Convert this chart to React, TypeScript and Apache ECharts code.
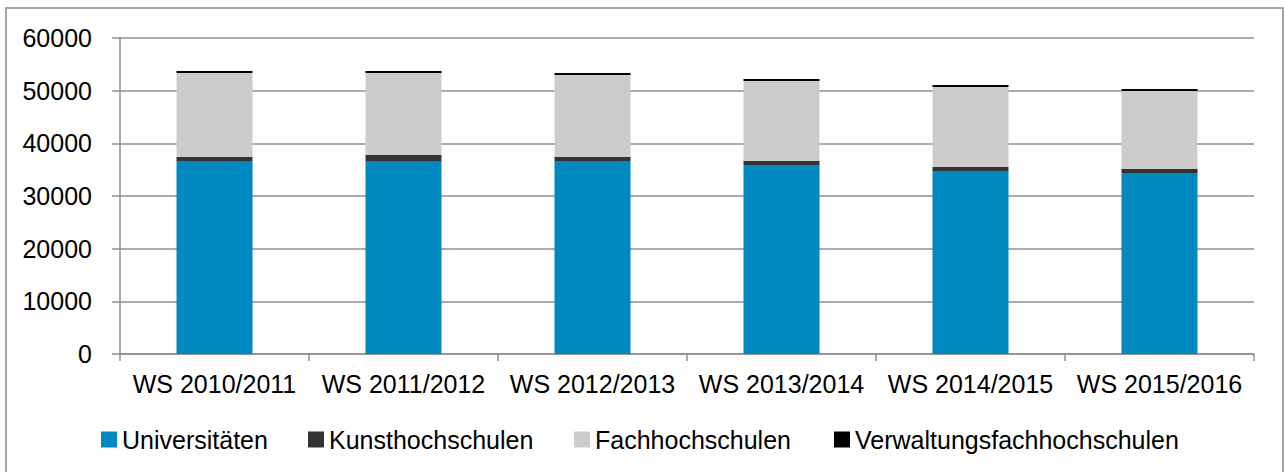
import React, { useEffect, useRef } from "react";
import * as echarts from "echarts";

const categories = ["WS 2010/2011", "WS 2011/2012", "WS 2012/2013", "WS 2013/2014", "WS 2014/2015", "WS 2015/2016"];
const seriesNames = ["Universitäten", "Kunsthochschulen", "Fachhochschulen", "Verwaltungsfachhochschulen"];
const universitaeten = [36640, 36640, 36640, 35880, 34750, 34370];
const kunsthochschulen = [760, 1140, 760, 760, 760, 760];
const fachhochschulen = [15950, 15570, 15570, 15190, 15190, 14810];
const verwaltungsfachhochschulen = [380, 380, 380, 380, 380, 380];

const FONT = "'Liberation Sans', Arial, sans-serif";

export default function App() {
  const ref = useRef<HTMLDivElement>(null);
  useEffect(() => {
    if (!ref.current) return;
    const chart = echarts.init(ref.current, null, { renderer: "svg" });
    const gridColor = "#8f8f8f";
    const mk = (name: string, data: number[], color: string) => ({
      name,
      type: "bar",
      stack: "total",
      data,
      barWidth: 76,
      itemStyle: { color },
      emphasis: { disabled: true },
    });
    const legendLefts = [101, 308, 574, 834];
    chart.setOption({
      animation: false,
      textStyle: { fontFamily: FONT },
      grid: { left: 120, right: 31, top: 38, bottom: 118, containLabel: false },
      graphic: [
        {
          type: "rect",
          shape: { x: 6, y: 8, width: 1277, height: 470 },
          style: { fill: "none", stroke: "#a6a6a6", lineWidth: 2 },
          silent: true,
        },
      ],
      legend: seriesNames.map((n, i) => ({
        left: legendLefts[i],
        top: 427,
        padding: 0,
        icon: "rect",
        itemWidth: 16,
        itemHeight: 16,
        textStyle: { fontSize: 25, color: "#000", fontFamily: FONT },
        data: [n],
      })),
      xAxis: {
        type: "category",
        data: categories,
        boundaryGap: true,
        axisLine: { lineStyle: { color: gridColor, width: 1.5 } },
        axisTick: { show: true, length: 7, lineStyle: { color: gridColor, width: 1.5 } },
        axisLabel: { fontSize: 25, color: "#000", margin: 17, fontFamily: FONT, interval: 0 },
      },
      yAxis: {
        type: "value",
        min: 0,
        max: 60000,
        interval: 10000,
        axisLine: { show: true, lineStyle: { color: gridColor, width: 1.5 } },
        axisTick: { show: true, length: 8, lineStyle: { color: gridColor, width: 1.5 } },
        splitLine: { show: true, lineStyle: { color: gridColor, width: 1.5 } },
        axisLabel: { fontSize: 25, color: "#000", margin: 28, fontFamily: FONT, formatter: (v: number) => String(v) },
      },
      series: [
        mk(seriesNames[0], universitaeten, "#0089c1"),
        mk(seriesNames[1], kunsthochschulen, "#333333"),
        mk(seriesNames[2], fachhochschulen, "#cccccc"),
        mk(seriesNames[3], verwaltungsfachhochschulen, "#000000"),
      ],
    });
    return () => chart.dispose();
  }, []);
  return (
    <div
      ref={ref}
      style={{ position: "absolute", left: 0, top: 0, width: 1285, height: 472, background: "#fff" }}
    />
  );
}
